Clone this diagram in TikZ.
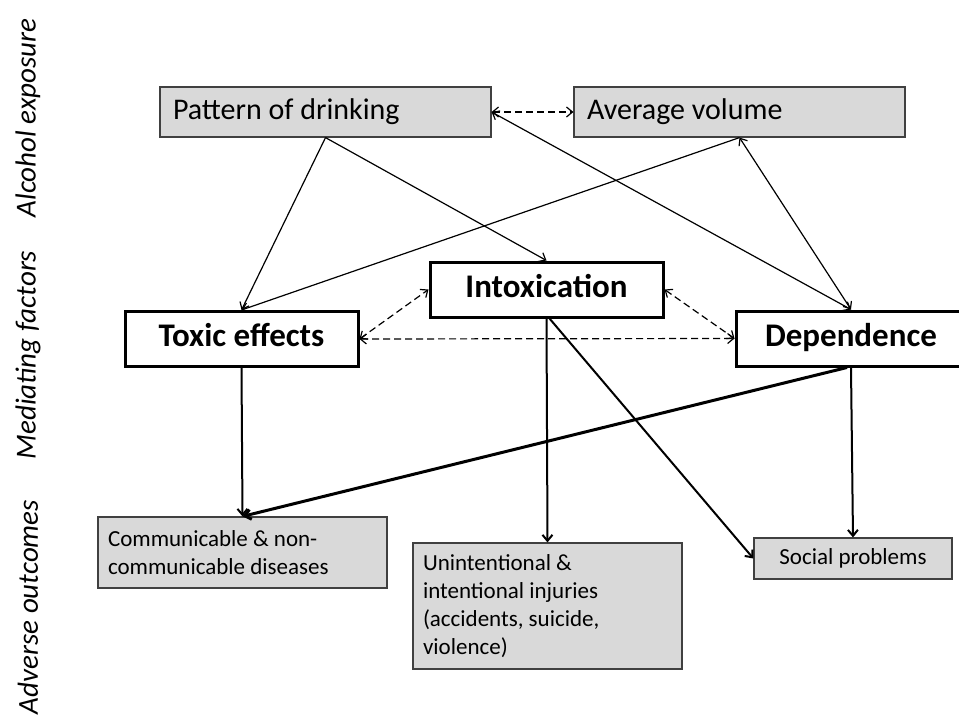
\documentclass[tikz,border=0pt]{standalone}
\usepackage{fontspec}
\setmainfont{Carlito}
\usetikzlibrary{arrows.meta,positioning}
\definecolor{aeGrey}{HTML}{D9D9D9}
\definecolor{aeLine}{HTML}{404040}
\tikzset{
  aenode/.style={
    draw, rectangle, inner ysep=0pt,
    execute at begin node={\spaceskip=0pt\xspaceskip=0pt\relax}
  },
  expbox/.style={aenode, fill=aeGrey, draw=aeLine, line width=1.2pt, inner xsep=13pt,
    text width=305pt, minimum height=50pt, align=left, font=\fontsize{30}{36}\selectfont},
  medbox/.style={aenode, fill=white, draw=black, line width=3pt, minimum width=233pt,
    minimum height=55pt, text height=22pt, text depth=7pt,
    font=\bfseries\fontsize{33}{40}\selectfont},
  outbox/.style={aenode, fill=aeGrey, draw=aeLine, line width=1.2pt, inner xsep=10pt,
    align=left, font=\fontsize{23}{28}\selectfont},
  layer/.style={rotate=90, font=\itshape\fontsize{29}{35}\selectfont, inner sep=0pt},
  tip/.tip={Straight Barb[length=6pt,width=10pt]},
  link/.style={-tip, line width=1.2pt},
  bilink/.style={tip-tip, line width=1.2pt},
  dashlink/.style={bilink, dash pattern=on 7pt off 4pt},
  outlink/.style={link, line width=2pt},
  heavylink/.style={link, line width=3pt}
}

\begin{document}
\begin{tikzpicture}[x=1pt, y=-1pt]
  \useasboundingbox (0,0) rectangle (959,720);

  \node[layer] (lexp) at (28,118) {Alcohol exposure};
  \node[layer] (lmed) at (28,355) {Mediating factors};
  \node[layer] (lout) at (28,607) {Adverse outcomes};

  \node[expbox] (pat) at (325.5,112) {Pattern of drinking};
  \node[expbox] (avg) at (739.5,112) {Average volume};

  \node[medbox] (tox) at (241.5,339) {Toxic effects};
  \node[medbox] (intox) at (546.5,289.5) {Intoxication};
  \node[medbox, minimum width=230pt] (dep) at (851,338.5) {Dependence};

  \node[outbox, text width=269pt, minimum height=71pt] (comm) at (242.5,552.5)
    {Communicable \& non-\\communicable diseases};
  \node[outbox, text width=249pt, minimum height=126pt] (inj) at (547.5,606)
    {Unintentional \&\\intentional injuries\\(accidents, suicide,\\violence)};
  \node[outbox, align=center, minimum width=198pt, minimum height=41pt] (soc) at (853,558.5)
    {Social problems};

  \draw[dashlink] (pat.east) -- (avg.west);
  \draw[link] (pat.south) -- (tox.north);
  \draw[link] (pat.south) -- (intox.north);
  \draw[link] (avg.south) -- (tox.north);
  \draw[bilink] (pat.east) -- (dep.north);
  \draw[bilink] (avg.south) -- (dep.north);

  \draw[dashlink] (tox.east) -- (intox.west);
  \draw[dashlink] (tox.east) -- (dep.west);
  \draw[dashlink] (intox.east) -- (dep.west);

  \draw[outlink] (tox.south) -- (comm.north);
  \draw[outlink] (intox.south) -- (inj.north);
  \draw[outlink] ([xshift=3pt]intox.south) -- (soc.west);
  \draw[outlink] (dep.south) -- (soc.north);
  \draw[heavylink] ([xshift=-4pt]dep.south) -- (comm.north);
\end{tikzpicture}
\end{document}
